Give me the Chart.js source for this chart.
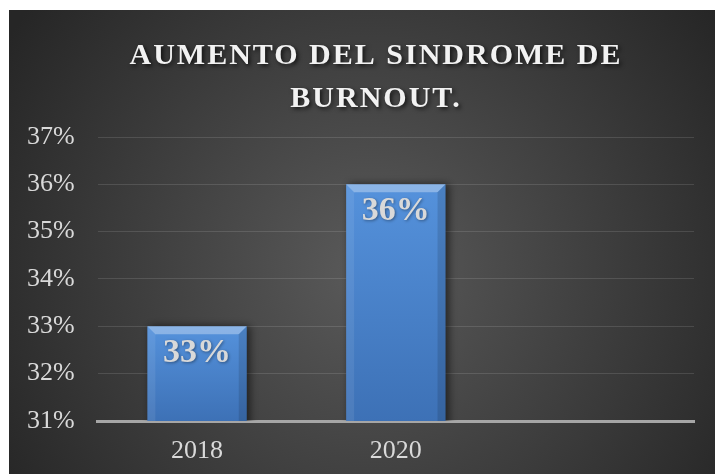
<!DOCTYPE html>
<html>
<head>
<meta charset="utf-8">
<script src="https://cdn.jsdelivr.net/npm/chart.js@4"></script>
<style>
  html, body { margin: 0; padding: 0; background: #fff; }
  #wrap { width: 715px; height: 474px; }
</style>
</head>
<body>
<div id="wrap"><canvas id="grafico" width="715" height="474"></canvas></div>
<script>
const categorias = ['2018', '2020', ''];
const valores = [0.33, 0.36, null];
const titulo = ['AUMENTO DEL SINDROME DE', 'BURNOUT.'];
const yMin = 0.31, yMax = 0.37, yPaso = 0.01;

const serif = '"Liberation Serif", "DejaVu Serif", serif';
const pct = v => Math.round(v * 100) + '%';

// fondo oscuro con degradado radial
const fondo = {
  id: 'fondo',
  beforeDraw(chart) {
    const ctx = chart.ctx;
    const x0 = 9, y0 = 10, w = chart.width - x0, h = chart.height - y0;
    const g = ctx.createRadialGradient(370, 270, 10, 370, 270, 430);
    g.addColorStop(0, '#595959');
    g.addColorStop(1, '#262626');
    ctx.save();
    ctx.fillStyle = g;
    ctx.fillRect(x0, y0, w, h);
    ctx.restore();
  }
};

// titulo con espaciado entre letras
const tituloPlugin = {
  id: 'tituloPlugin',
  afterDraw(chart) {
    const ctx = chart.ctx;
    ctx.save();
    ctx.font = 'bold 30px ' + serif;
    ctx.letterSpacing = '2px';
    ctx.fillStyle = '#f2f2f2';
    ctx.textAlign = 'center';
    ctx.textBaseline = 'alphabetic';
    ctx.shadowColor = 'rgba(0,0,0,0.7)';
    ctx.shadowBlur = 4;
    ctx.shadowOffsetX = 2;
    ctx.shadowOffsetY = 2;
    titulo.forEach((linea, i) => ctx.fillText(linea, 376, 64 + i * 43));
    ctx.restore();
  }
};

// sombra de las barras
const sombra = {
  id: 'sombra',
  beforeDatasetsDraw(chart) {
    const ctx = chart.ctx;
    ctx.save();
    ctx.shadowColor = 'rgba(0,0,0,0.55)';
    ctx.shadowBlur = 8;
    ctx.shadowOffsetX = 3;
  },
  afterDatasetsDraw(chart) {
    chart.ctx.restore();
  }
};

// bisel y etiquetas de las barras
const bisel = {
  id: 'bisel',
  afterDatasetsDraw(chart) {
    const ctx = chart.ctx;
    const meta = chart.getDatasetMeta(0);
    meta.data.forEach((bar, i) => {
      if (valores[i] == null) return;
      const { x, y, base, width } = bar.getProps(['x', 'y', 'base', 'width'], true);
      const fondoBarra = Math.min(base, chart.chartArea.bottom);
      const l = x - width / 2, r = x + width / 2, b = 8;
      ctx.save();
      ctx.fillStyle = 'rgba(255,255,255,0.32)';
      ctx.beginPath();
      ctx.moveTo(l, y); ctx.lineTo(r, y); ctx.lineTo(r - b, y + b); ctx.lineTo(l + b, y + b);
      ctx.closePath(); ctx.fill();
      ctx.fillStyle = 'rgba(255,255,255,0.08)';
      ctx.beginPath();
      ctx.moveTo(l, y); ctx.lineTo(l + b, y + b); ctx.lineTo(l + b, fondoBarra); ctx.lineTo(l, fondoBarra);
      ctx.closePath(); ctx.fill();
      ctx.fillStyle = 'rgba(0,0,0,0.12)';
      ctx.beginPath();
      ctx.moveTo(r, y); ctx.lineTo(r - b, y + b); ctx.lineTo(r - b, fondoBarra); ctx.lineTo(r, fondoBarra);
      ctx.closePath(); ctx.fill();

      ctx.font = 'bold 34px ' + serif;
      ctx.fillStyle = '#d9d9d9';
      ctx.textAlign = 'center';
      ctx.textBaseline = 'alphabetic';
      ctx.shadowColor = 'rgba(0,0,0,0.4)';
      ctx.shadowBlur = 3;
      ctx.shadowOffsetX = 1;
      ctx.shadowOffsetY = 1;
      ctx.fillText(pct(valores[i]), x, y + 36);
      ctx.restore();
    });
  }
};

function colorBarra(context) {
  const chart = context.chart;
  const v = context.raw;
  if (v == null || !chart.chartArea) return '#4a82cc';
  const ys = chart.scales.y;
  const top = ys.getPixelForValue(v), bottom = ys.getPixelForValue(yMin);
  const g = chart.ctx.createLinearGradient(0, top, 0, bottom);
  g.addColorStop(0, '#5592dc');
  g.addColorStop(1, '#3d71b6');
  return g;
}

const ctx = document.getElementById('grafico').getContext('2d');
const chart = new Chart(ctx, {
  type: 'bar',
  data: {
    labels: categorias,
    datasets: [{
      label: 'Aumento',
      data: valores,
      backgroundColor: colorBarra,
      borderWidth: 0,
      barPercentage: 0.5,
      categoryPercentage: 1.0
    }]
  },
  options: {
    responsive: false,
    animation: false,
    layout: { padding: { left: 4, right: 21, top: 137, bottom: 0 } },
    plugins: {
      legend: { display: false },
      title: { display: false },
      tooltip: { enabled: false }
    },
    scales: {
      x: {
        grid: { display: false, drawTicks: false },
        border: { display: true, color: '#a6a6a6', width: 3 },
        ticks: { color: '#d9d9d9', font: { family: serif, size: 26, lineHeight: 1 }, padding: 17 },
        afterFit(scale) { scale.height = 53; }
      },
      y: {
        min: yMin,
        max: yMax,
        grid: { color: 'rgba(255,255,255,0.12)', lineWidth: 1, drawTicks: false },
        border: { display: false },
        ticks: {
          stepSize: yPaso,
          color: '#d9d9d9',
          font: { family: serif, size: 26 },
          padding: 23,
          callback: v => pct(v)
        }
      }
    }
  },
  plugins: [fondo, sombra, bisel, tituloPlugin]
});
</script>
</body>
</html>
